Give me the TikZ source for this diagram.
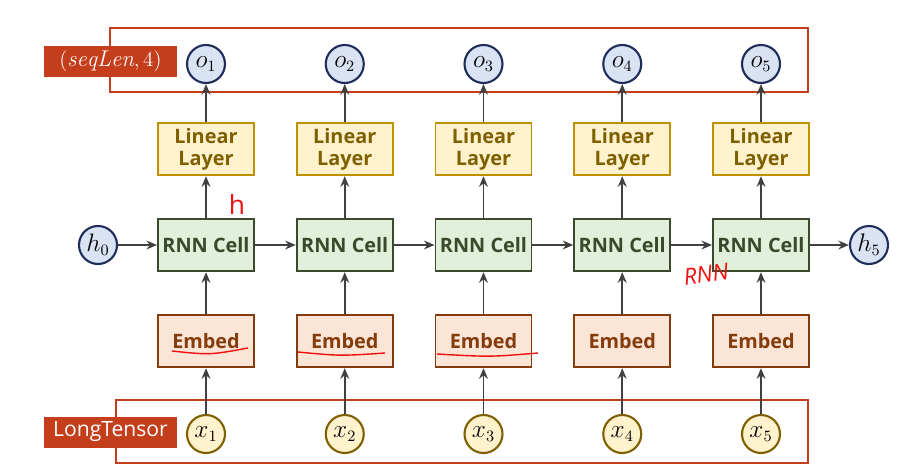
\documentclass[tikz,border=0pt]{standalone}
\usepackage{amsmath}
\usepackage{fontspec}
\setsansfont{Open Sans}
\usetikzlibrary{arrows.meta}

\definecolor{tagred}{HTML}{C43E1C}
\definecolor{ofill}{HTML}{DAE3F3}
\definecolor{odraw}{HTML}{1F2D5A}
\definecolor{xfill}{HTML}{FFF2CC}
\definecolor{xdraw}{HTML}{7F6000}
\definecolor{linfill}{HTML}{FFF2CC}
\definecolor{lindraw}{HTML}{BF9000}
\definecolor{lintext}{HTML}{7F6000}
\definecolor{rnnfill}{HTML}{E2EFDA}
\definecolor{rnndraw}{HTML}{3B4A2C}
\definecolor{rnntext}{HTML}{384A2A}
\definecolor{embfill}{HTML}{FBE5D6}
\definecolor{embdraw}{HTML}{843C0C}
\definecolor{conncol}{HTML}{404040}
\definecolor{inkred}{HTML}{F01010}

\tikzset{
  hnode/.style={circle, draw=odraw, fill=ofill, line width=1.2pt, minimum size=0.76cm, inner sep=0pt, font=\fontsize{13.5}{13.5}\selectfont},
  xnode/.style={circle, draw=xdraw, fill=xfill, line width=1.2pt, minimum size=0.76cm, inner sep=0pt, font=\fontsize{13.5}{13.5}\selectfont},
  cellbox/.style={line width=1.1pt, minimum width=1.92cm, minimum height=1.05cm, align=center, inner sep=0pt, font=\sffamily\bfseries\fontsize{11.3}{12.5}\selectfont},
  linbox/.style={cellbox, draw=lindraw, fill=linfill, text=lintext},
  rnnbox/.style={cellbox, draw=rnndraw, fill=rnnfill, text=rnntext},
  embbox/.style={cellbox, draw=embdraw, fill=embfill, text=embdraw},
  tag/.style={fill=tagred, text=white, minimum width=2.66cm, minimum height=0.62cm, inner sep=0pt, font=\sffamily\fontsize{12}{12}\selectfont},
  frame/.style={draw=tagred, line width=1.1pt},
  conn/.style={draw=conncol, line width=1.1pt, -{Stealth[length=6pt,width=5pt]}},
  ink/.style={inkred, line width=0.8pt}
}

\begin{document}
\begin{tikzpicture}[x=0.02cm,y=-0.02cm]
\useasboundingbox (0,0) rectangle (908,473);
\draw[frame] (110,28) rectangle (808,92);
\draw[frame] (116,400) rectangle (808,463);
\node[tag] (outtag) at (110.5,61.5) {\fontsize{13}{13}\selectfont$(\mathit{seqLen},4)$};
\node[tag] (intag) at (110.5,432) {LongTensor};
\foreach \i in {1,...,5} {
  \pgfmathsetmacro{\cx}{206+138.75*(\i-1)}
  \node[xnode] (x\i) at (\cx,434) {$x_{\i}$};
  \node[embbox] (e\i) at (\cx,341) {Embed};
  \node[rnnbox] (r\i) at (\cx,245) {RNN Cell};
  \node[linbox] (l\i) at (\cx,149) {Linear\\Layer};
  \node[hnode] (o\i) at (\cx,64) {$o_{\i}$};
  \draw[conn] (x\i) -- (e\i);
  \draw[conn] (e\i) -- (r\i);
  \draw[conn] (r\i) -- (l\i);
  \draw[conn] (l\i) -- (o\i);
}
\node[hnode] (h0) at (98,245) {$h_0$};
\node[hnode] (h5) at (869,245) {$h_5$};
\draw[conn] (h0) -- (r1);
\foreach \i [evaluate=\i as \j using int(\i+1)] in {1,...,4}
  \draw[conn] (r\i) -- (r\j);
\draw[conn] (r5) -- (h5);
% handwritten marks
\node[inkred, font=\sffamily\fontsize{15}{15}\selectfont] (hmark) at (237,204) {h};
\node[inkred, font=\sffamily\itshape\fontsize{13}{13}\selectfont, rotate=8] (rnnmark) at (706,274) {RNN};
\draw[ink] (172,351) .. controls (210,355) .. (248,348);
\draw[ink] (298,352) .. controls (340,356) .. (385,353);
\draw[ink] (437,354) .. controls (490,357) .. (538,353);
\end{tikzpicture}
\end{document}
